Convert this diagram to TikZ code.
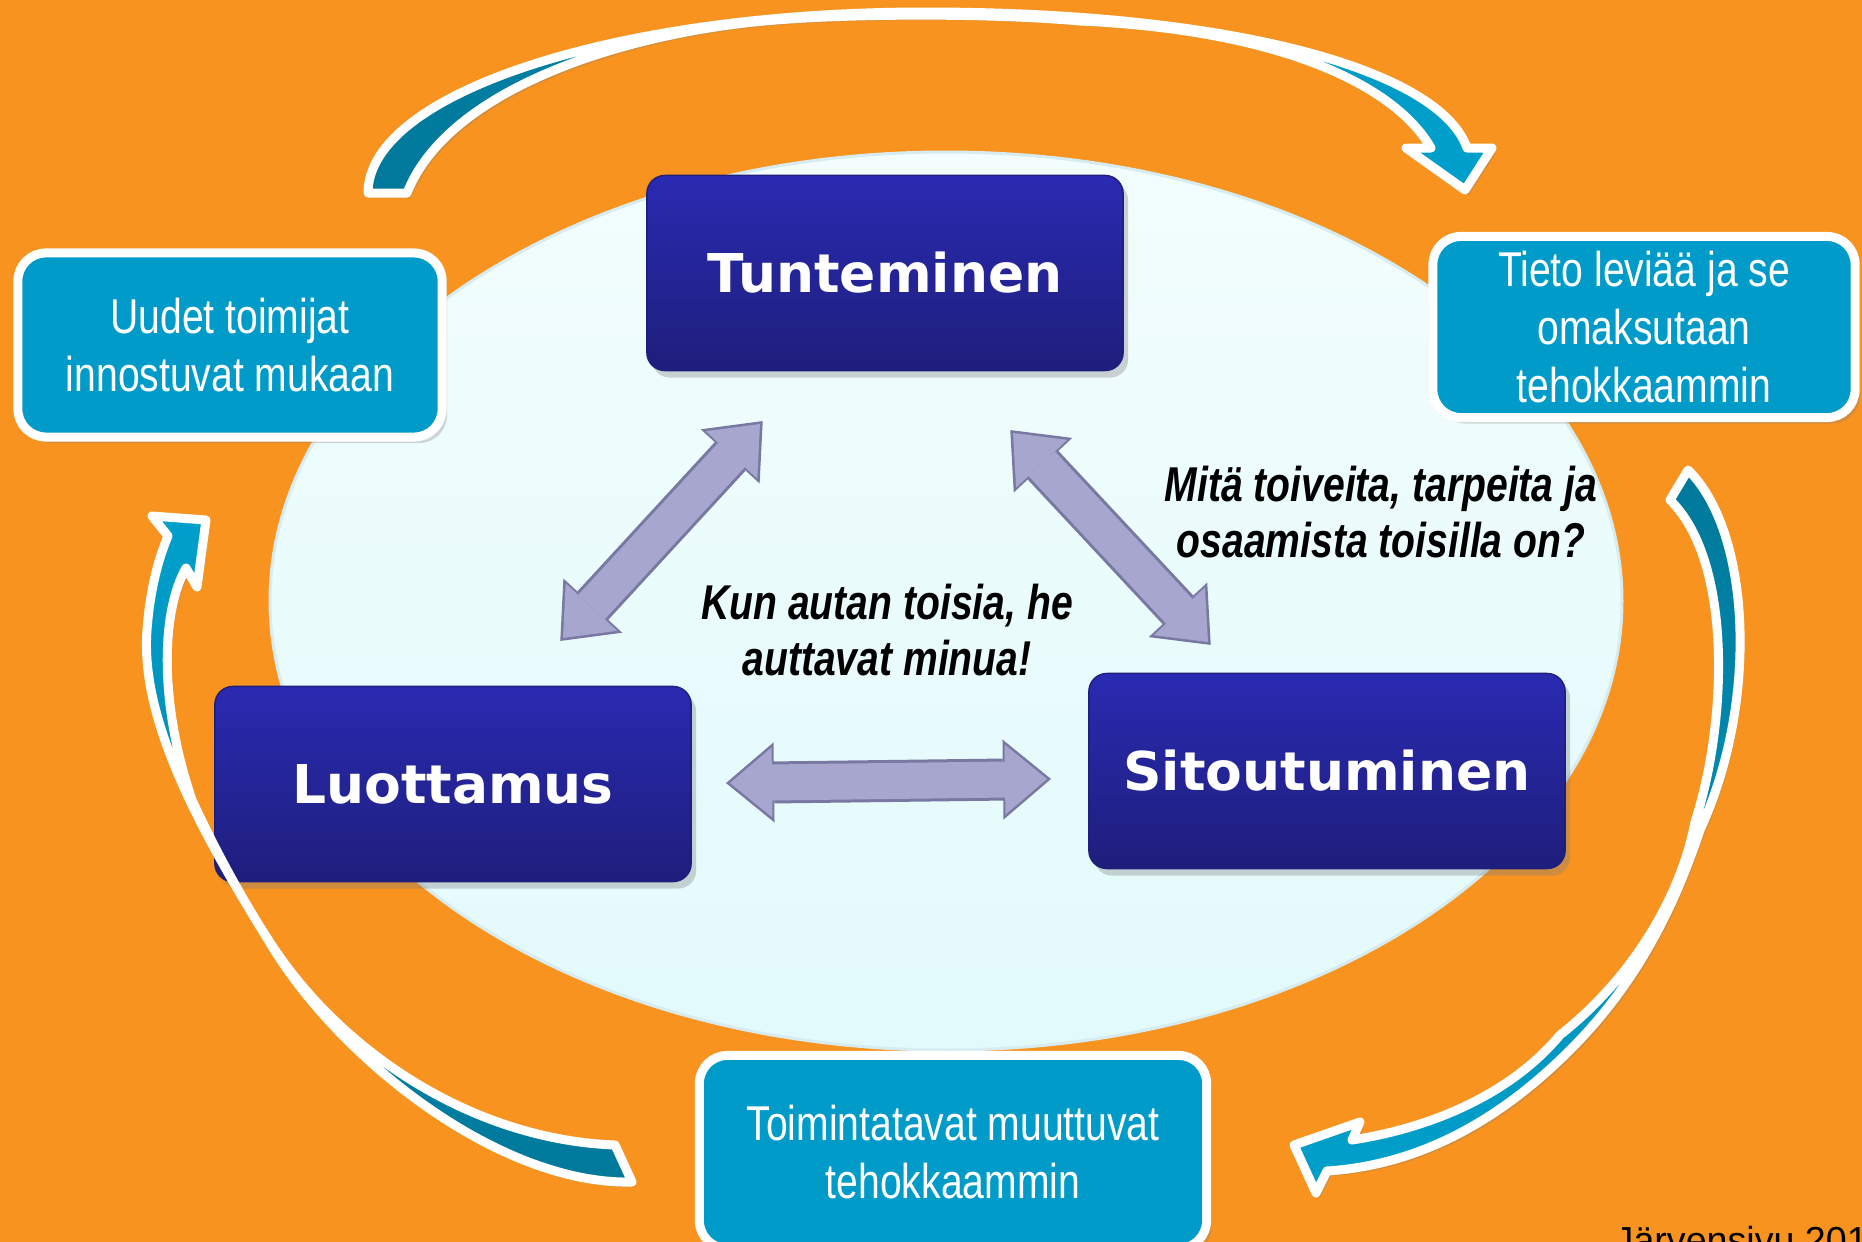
\documentclass[tikz,border=0pt]{standalone}
\usepackage{fontspec}
\setmainfont{Liberation Sans}
\newfontfamily\narrowfont[FakeStretch=0.8]{Liberation Sans}
\newfontfamily\widefont{DejaVu Sans}
\usetikzlibrary{arrows.meta,shadows}

\definecolor{bgorange}{RGB}{247,147,30}
\definecolor{ovaltop}{RGB}{243,253,253}
\definecolor{ovalbot}{RGB}{226,250,252}
\definecolor{ovalrim}{RGB}{214,236,240}
\definecolor{navytop}{RGB}{42,42,178}
\definecolor{navybot}{RGB}{30,30,124}
\definecolor{boxcyan}{RGB}{0,155,200}
\definecolor{tealdark}{RGB}{0,120,154}
\definecolor{teallight}{RGB}{0,160,204}
\definecolor{lav}{RGB}{166,166,206}
\definecolor{lavdark}{RGB}{120,120,162}

\tikzset{
  navybox/.style={rectangle, rounded corners=0.18cm, top color=navytop, bottom color=navybot,
    draw=navybot, line width=0.4pt,
    minimum width=4.76cm, minimum height=1.95cm, inner sep=0pt, text=white,
    font=\widefont\bfseries\fontsize{15.2}{18}\selectfont,
    drop shadow={shadow xshift=0.05cm, shadow yshift=-0.07cm, opacity=0.35}},
  cyanbox/.style={rectangle, rounded corners=0.28cm, fill=boxcyan, draw=white,
    line width=0.09cm, inner sep=0pt, text=white, align=center,
    font=\narrowfont\fontsize{13.9}{16.5}\selectfont,
    drop shadow={shadow xshift=0.05cm, shadow yshift=-0.06cm, opacity=0.3}},
  note/.style={align=center, inner sep=0pt,
    font=\narrowfont\bfseries\itshape\fontsize{13.9}{15.9}\selectfont},
  biarrow/.style={draw=lav, line width=0.36cm,
    arrows={Triangle[length=0.42cm,width=0.70cm,line width'=0pt]-Triangle[length=0.42cm,width=0.70cm,line width'=0pt]},
    preaction={draw=lavdark, line width=0.42cm, shorten <=-0.04cm, shorten >=-0.04cm,
      arrows={Triangle[length=0.48cm,width=0.80cm,line width'=0pt]-Triangle[length=0.48cm,width=0.80cm,line width'=0pt]}}},
  bigarrow/.style={draw=white, line width=0.09cm, line join=round,
    drop shadow={shadow xshift=0.04cm, shadow yshift=-0.05cm, opacity=0.3}}
}

\begin{document}
\begin{tikzpicture}[x=0.01cm, y=-0.01cm]
\useasboundingbox (0,0) rectangle (1862,1242);
\clip (0,0) rectangle (1862,1242);
\fill[bgorange] (0,0) rectangle (1862,1242);
\path[top color=ovaltop, bottom color=ovalbot, draw=ovalrim, line width=0.03cm]
  (946,601) ellipse [x radius=676, y radius=449];

% inner triangle
\node [navybox] (tun) at (885,273) {Tunteminen};
\node [navybox] (luo) at (453,784) {Luottamus};
\node [navybox] (sit) at (1327,771) {Sitoutuminen};

\coordinate (tunL) at (760,424);
\coordinate (luoT) at (563,638);
\coordinate (tunR) at (1013,433);
\coordinate (sitT) at (1208,642);
\coordinate (luoR) at (730,783);
\coordinate (sitL) at (1047,779);
\draw[biarrow] (tunL) -- (luoT);
\draw[biarrow] (tunR) -- (sitT);
\draw[biarrow] (luoR) -- (sitL);

\node [note] (kun) at (887,630) {Kun autan toisia, he\\auttavat minua!};
\node [note] (mita) at (1381,512) {Mitä toiveita, tarpeita ja\\osaamista toisilla on?};

% outer cycle
\node [cyanbox, minimum width=4.24cm, minimum height=1.84cm] (uud) at (230,345)
  {Uudet toimijat\\innostuvat mukaan};
\node [cyanbox, minimum width=4.22cm, minimum height=1.81cm] (tie) at (1644,327)
  {Tieto leviää ja se\\omaksutaan\\tehokkaammin};
\node [cyanbox, minimum width=5.07cm, minimum height=1.93cm] (toi) at (953,1152)
  {Toimintatavat muuttuvat\\tehokkaammin};

\path[bigarrow, left color=tealdark, right color=teallight]
  (368,193) .. controls (368,93) and (617,12) .. (925,12)
  .. controls (1233,12) and (1440,70) .. (1467,148)
  -- (1492,148) -- (1465,190) -- (1406,148) -- (1431,148)
  .. controls (1395,85) and (1280,30) .. (1080,21)
  .. controls (990,13) and (860,14) .. (790,19)
  .. controls (640,28) and (450,84) .. (407,193) -- cycle;
\path[bigarrow, top color=tealdark, bottom color=teallight]
  (1688,470) .. controls (1750,530) and (1760,700) .. (1700,830)
  .. controls (1670,920) and (1630,990) .. (1570,1050)
  .. controls (1500,1120) and (1420,1165) .. (1327,1171)
  -- (1316,1193) -- (1294,1145) -- (1360,1122) -- (1352,1140)
  .. controls (1430,1128) and (1510,1095) .. (1560,1035)
  .. controls (1630,980) and (1680,900) .. (1695,822)
  .. controls (1728,720) and (1732,560) .. (1670,500) -- cycle;
\path[bigarrow, top color=teallight, bottom color=tealdark]
  (632,1182) .. controls (500,1185) and (340,1060) .. (270,943)
  .. controls (200,830) and (140,720) .. (147,630)
  .. controls (150,590) and (158,560) .. (168,536)
  -- (152,516) -- (206,520) -- (197,587) -- (186,568)
  .. controls (162,610) and (158,700) .. (192,800)
  .. controls (215,850) and (245,905) .. (275,950)
  .. controls (350,1060) and (480,1140) .. (615,1145) -- cycle;

\node [anchor=base west, inner sep=0pt, font=\fontsize{10.7}{13}\selectfont] (src)
  at (1614,1253) {Järvensivu 201};
\end{tikzpicture}
\end{document}
